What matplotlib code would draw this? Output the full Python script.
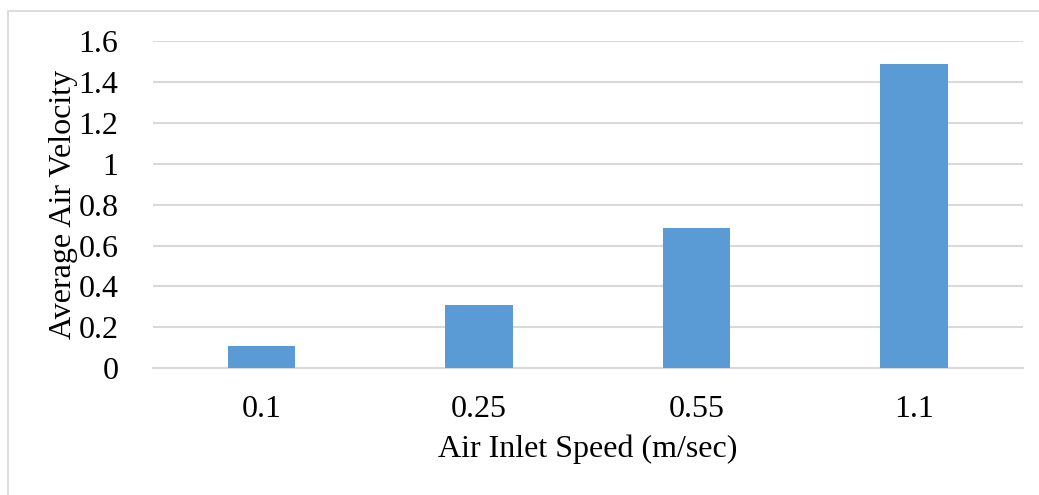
import matplotlib.pyplot as plt
import matplotlib.lines as mlines

# data
speeds = ["0.1", "0.25", "0.55", "1.1"]
avg_velocity = [0.107, 0.31, 0.686, 1.49]
yticks = [0, 0.2, 0.4, 0.6, 0.8, 1, 1.2, 1.4, 1.6]
ytick_labels = ["0", "0.2", "0.4", "0.6", "0.8", "1", "1.2", "1.4", "1.6"]

plt.rcParams['font.family'] = ['Liberation Serif', 'DejaVu Serif']

W, H = 1039, 495
fig = plt.figure(figsize=(W / 100, H / 100), dpi=100)
# outer chart frame: only top and left edges fall inside the picture
fig.lines.append(mlines.Line2D([7.5 / W, 7.5 / W, 1.0], [0.0, 1 - 10.5 / H, 1 - 10.5 / H],
                               transform=fig.transFigure, color='#d9d9d9', linewidth=1.3))

ax = fig.add_axes([153 / W, 126.7 / H, 869.7 / W, 327.3 / H])
x = range(len(speeds))
ax.bar(x, avg_velocity, width=0.31, color='#5b9bd5', zorder=3)

ax.set_xlim(-0.5, len(speeds) - 0.5)
ax.set_ylim(0, 1.6)
ax.set_yticks(yticks)
ax.set_yticklabels(ytick_labels)
ax.set_xticks(list(x))
ax.set_xticklabels(speeds)

ax.grid(axis='y', color='#d9d9d9', linewidth=1.5, zorder=0)
for s in ['top', 'right', 'left']:
    ax.spines[s].set_visible(False)
ax.spines['bottom'].set_color('#d9d9d9')
ax.spines['bottom'].set_linewidth(1.5)
ax.tick_params(axis='both', length=0, labelsize=23, colors='black')
ax.tick_params(axis='y', pad=25)
ax.tick_params(axis='x', pad=19)

ax.set_xlabel("Air Inlet Speed (m/sec)", fontsize=23, labelpad=8)
ax.set_ylabel("Average Air Velocity", fontsize=23, labelpad=0)

fig.savefig("out.png", dpi=100)
